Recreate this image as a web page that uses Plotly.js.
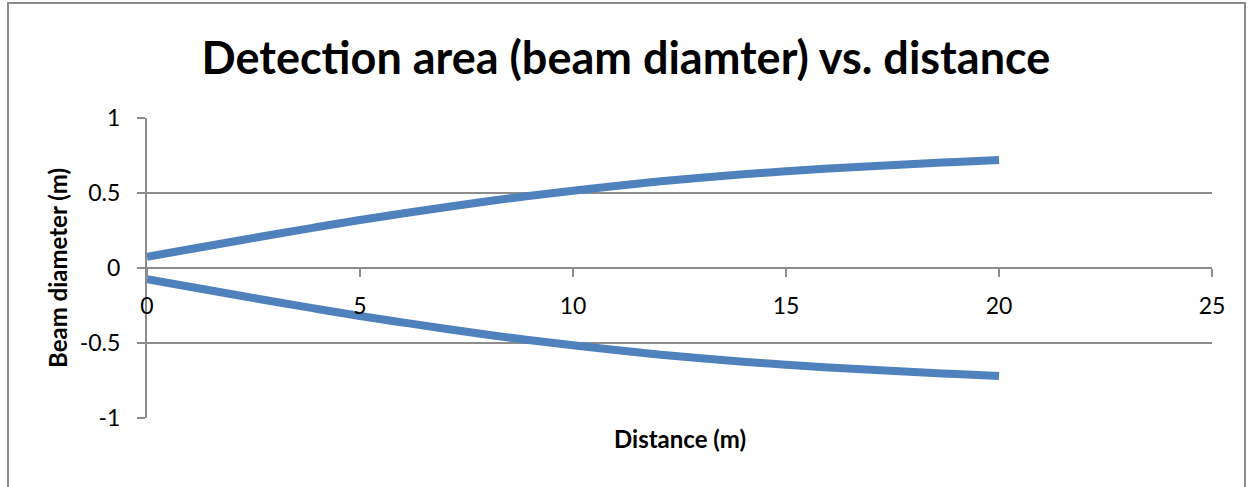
<!DOCTYPE html>
<html>
<head>
<meta charset="utf-8">
<script src="https://cdn.plot.ly/plotly-3.0.1.min.js"></script>
<style>
html,body{margin:0;padding:0;background:#fff;}
#wrap{position:relative;width:1252px;height:487px;}
#chart{position:absolute;left:0;top:0;width:1252px;height:487px;}
#frame{position:absolute;left:7px;top:2px;width:1239px;height:500px;border:2px solid #8c8c8c;box-sizing:border-box;pointer-events:none;}
</style>
</head>
<body>
<div id="wrap"><div id="chart"></div><div id="frame"></div></div>
<script>
const distance = [0, 1, 2, 3, 4, 5, 6, 7, 8, 9, 10, 11, 12, 13, 14, 15, 16, 17, 18, 19, 20];
const upperDiameter = [0.075, 0.125, 0.175, 0.225, 0.273, 0.32, 0.363, 0.405, 0.445, 0.482, 0.515, 0.547, 0.576, 0.602, 0.625, 0.645, 0.663, 0.679, 0.694, 0.707, 0.72];
const lowerDiameter = [-0.075, -0.125, -0.175, -0.225, -0.273, -0.32, -0.363, -0.405, -0.445, -0.482, -0.515, -0.547, -0.576, -0.602, -0.625, -0.645, -0.663, -0.679, -0.694, -0.707, -0.72];
const xTicks = [0, 5, 10, 15, 20, 25];
const yTicks = [-1, -0.5, 0, 0.5, 1];
const yTickLabels = ["-1", "-0.5", "0", "0.5", "1"];

const lineStyle = {color: '#4F81BD', width: 8, shape: 'spline'};
const traces = [
  {x: distance, y: upperDiameter, mode: 'lines', line: lineStyle, hoverinfo: 'skip', showlegend: false},
  {x: distance, y: lowerDiameter, mode: 'lines', line: lineStyle, hoverinfo: 'skip', showlegend: false}
];
const font = 'Lato, "Open Sans", sans-serif';
const layout = {
  width: 1252, height: 487,
  margin: {l: 147, r: 40, t: 118, b: 69},
  paper_bgcolor: '#fff', plot_bgcolor: '#fff',
  showlegend: false,
  title: {text: '<b>Detection area (beam diamter) vs. distance</b>', font: {family: font, size: 45, color: '#000'}, x: 0.5, xanchor: 'center', y: 1 - 58/487, yanchor: 'middle', yref: 'container'},
  xaxis: {
    range: [0, 25], tickvals: xTicks, ticktext: xTicks.map(String),
    anchor: 'free', position: 0.5,
    showgrid: false, zeroline: false,
    showline: true, linecolor: '#8c8c8c', linewidth: 2,
    ticks: 'outside', ticklen: 8, tickwidth: 2, tickcolor: '#8c8c8c',
    ticklabelstandoff: 9,
    tickfont: {family: font, size: 23, color: '#000'}
  },
  yaxis: {
    range: [-1, 1], tickvals: yTicks, ticktext: yTickLabels,
    showgrid: true, gridcolor: '#8c8c8c', gridwidth: 2,
    zeroline: false,
    showline: true, linecolor: '#8c8c8c', linewidth: 2,
    ticks: 'outside', ticklen: 8, tickwidth: 2, tickcolor: '#8c8c8c',
    ticklabelstandoff: 12,
    tickfont: {family: font, size: 23, color: '#000'},
    title: {text: '<b>Beam diameter (m)</b>', font: {family: font, size: 24, color: '#000'}, standoff: 5}
  },
  annotations: [
    {text: '<b>Distance (m)</b>', xref: 'paper', yref: 'paper', x: 0.5, y: -20/300, xanchor: 'center', yanchor: 'middle', showarrow: false, font: {family: font, size: 24, color: '#000'}}
  ]
};
Plotly.newPlot('chart', traces, layout, {staticPlot: true, displayModeBar: false});
</script>
</body>
</html>
